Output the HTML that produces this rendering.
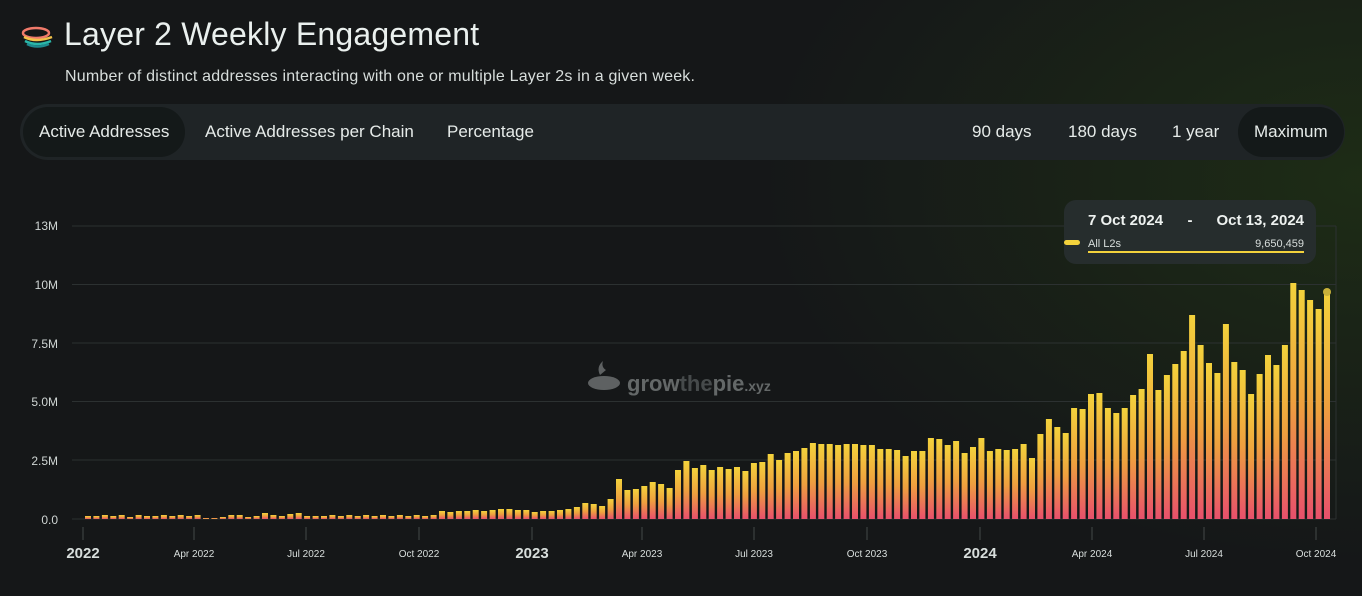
<!DOCTYPE html>
<html><head><meta charset="utf-8"><style>
*{margin:0;padding:0;box-sizing:border-box}
body{width:1362px;height:596px;overflow:hidden;background:#151718;font-family:"Liberation Sans",sans-serif;color:#e8ecea;position:relative}
.bg{position:absolute;inset:0;background:radial-gradient(ellipse 600px 380px at 1362px 180px,rgba(40,70,20,0.45),rgba(21,23,24,0) 100%)}
.title{position:absolute;left:64px;top:16px;font-size:32px;letter-spacing:0.2px;color:#eaf0ee}
.sub{position:absolute;left:65px;top:68px;font-size:16px;letter-spacing:0.2px;color:#d8dedc}
.bar{position:absolute;left:20px;top:104px;width:1325px;height:56px;border-radius:28px;background:#1f2426}
.pill{position:absolute;top:3px;height:50px;line-height:50px;font-size:17px;color:#e6ebe9;padding:0 16px;border-radius:25px}
.act{background:#141919}
</style></head><body>
<div class="bg"></div>
<svg style="position:absolute;left:20px;top:25px" width="36" height="24" viewBox="0 0 36 24">
<ellipse cx="16" cy="8" rx="13" ry="5" fill="none" stroke="#f07a6a" stroke-width="2.5"/>
<path d="M4 12 q12 6 28 0" stroke="#f2c24a" stroke-width="2.5" fill="none"/>
<path d="M5 16 q12 6 26 0" stroke="#2ab7a8" stroke-width="2.5" fill="none"/>
<path d="M7 19 q10 5 22 0" stroke="#1e8a8e" stroke-width="2.5" fill="none"/>
</svg>
<div class="title">Layer 2 Weekly Engagement</div>
<div class="sub">Number of distinct addresses interacting with one or multiple Layer 2s in a given week.</div>
<div class="bar">
<div class="pill act" style="left:3px">Active Addresses</div>
<div class="pill" style="left:169px">Active Addresses per Chain</div>
<div class="pill" style="left:411px">Percentage</div>
<div class="pill" style="left:936px">90 days</div>
<div class="pill" style="left:1032px">180 days</div>
<div class="pill" style="left:1136px">1 year</div>
<div class="pill act" style="left:1218px">Maximum</div>
</div>
<svg id="ch" style="position:absolute;left:0;top:0" width="1362" height="596">
<defs><linearGradient id="g" x1="0" y1="0" x2="0" y2="1">
<stop offset="0" stop-color="#f3d23c"/><stop offset="0.5" stop-color="#eea03e"/><stop offset="1" stop-color="#e8506c"/></linearGradient></defs>
<g stroke="#2c3131" stroke-width="1">
<line x1="72" x2="1336" y1="226" y2="226"/><line x1="72" x2="1336" y1="284.5" y2="284.5"/>
<line x1="72" x2="1336" y1="343" y2="343"/><line x1="72" x2="1336" y1="401.5" y2="401.5"/>
<line x1="72" x2="1336" y1="460" y2="460"/><line x1="72" x2="1336" y1="519" y2="519"/>
<line x1="1336" x2="1336" y1="226" y2="519"/>
</g>
<g fill="#cfd5d3" font-size="12" text-anchor="end">
<text x="58" y="230">13M</text><text x="58" y="289">10M</text><text x="58" y="348">7.5M</text>
<text x="58" y="406">5.0M</text><text x="58" y="465">2.5M</text><text x="58" y="524">0.0</text>
</g>
<g stroke="#444949"><line x1="83" x2="83" y1="527" y2="540"/><line x1="194" x2="194" y1="527" y2="540"/><line x1="306" x2="306" y1="527" y2="540"/><line x1="419" x2="419" y1="527" y2="540"/><line x1="532" x2="532" y1="527" y2="540"/><line x1="642" x2="642" y1="527" y2="540"/><line x1="754" x2="754" y1="527" y2="540"/><line x1="867" x2="867" y1="527" y2="540"/><line x1="980" x2="980" y1="527" y2="540"/><line x1="1092" x2="1092" y1="527" y2="540"/><line x1="1204" x2="1204" y1="527" y2="540"/><line x1="1316" x2="1316" y1="527" y2="540"/></g>
<g fill="#d8dedc" text-anchor="middle">
<text x="83" y="558" font-size="15" font-weight="bold">2022</text>
<text x="194" y="557" font-size="10">Apr 2022</text><text x="306" y="557" font-size="10">Jul 2022</text><text x="419" y="557" font-size="10">Oct 2022</text>
<text x="532" y="558" font-size="15" font-weight="bold">2023</text>
<text x="642" y="557" font-size="10">Apr 2023</text><text x="754" y="557" font-size="10">Jul 2023</text><text x="867" y="557" font-size="10">Oct 2023</text>
<text x="980" y="558" font-size="15" font-weight="bold">2024</text>
<text x="1092" y="557" font-size="10">Apr 2024</text><text x="1204" y="557" font-size="10">Jul 2024</text><text x="1316" y="557" font-size="10">Oct 2024</text>
</g>
<g opacity="0.55">
<ellipse cx="604" cy="383" rx="16" ry="7" fill="#9a9f9f"/><path d="M600 375 q-4 -8 3 -14 q-2 6 3 9" fill="#9a9f9f"/>
<text x="627" y="391" font-size="22" font-weight="bold" fill="#a5abab">grow<tspan fill="#6f7575">the</tspan>pie<tspan font-size="14">.xyz</tspan></text>
</g>
<g id="bars"></g>
<circle cx="1327" cy="292" r="4" fill="#c9b13a"/>
<rect x="1064" y="200" width="252" height="64" rx="12" fill="#262d2d"/>
<text x="1088" y="225" font-size="15" font-weight="bold" fill="#eef2f0">7 Oct 2024</text>
<text x="1190" y="225" font-size="15" font-weight="bold" fill="#eef2f0" text-anchor="middle">-</text>
<text x="1304" y="225" font-size="15" font-weight="bold" fill="#eef2f0" text-anchor="end">Oct 13, 2024</text>
<rect x="1064" y="240" width="16" height="5" rx="2.5" fill="#f3d23c"/>
<text x="1088" y="247" font-size="11" fill="#d8dedc">All L2s</text>
<text x="1304" y="247" font-size="11" fill="#d8dedc" text-anchor="end">9,650,459</text>
<rect x="1088" y="251" width="216" height="2" fill="#f3d23c"/>
</svg>
<script>
var tops=[516,516,515,516,515,517,515,516,516,515,516,515,516,515,518,518,517,515,515,517,516,513,515,516,514,513,516,516,516,515,516,515,516,515,516,515,516,515,516,515,516,515,511,512,511,511,510,511,510,509,509,510,510,512,511,
511,510,509,507,503,504,506,499,479,490,489,486,482,484,488,470,461,468,465,470,467,469,467,471,463,462,454,460,453,451,448,443,444,444,445,
444,444,445,445,449,449,450,456,451,451,438,439,445,441,453,447,438,451,449,450,449,444,458,434,419,427,433,408,409,394,393,
408,413,408,395,389,354,390,375,364,351,315,345,363,373,324,362,370,394,374,355,365,345,283,290,300,309,292];
var s='';for(var i=0;i<tops.length;i++){var x=88+i*(1239/(tops.length-1))-3;var t=tops[i];s+='<rect x="'+x.toFixed(1)+'" y="'+t+'" width="6" height="'+(519-t)+'" fill="url(#g)"/>';}
document.getElementById('bars').innerHTML=s;
</script>
</body></html>
